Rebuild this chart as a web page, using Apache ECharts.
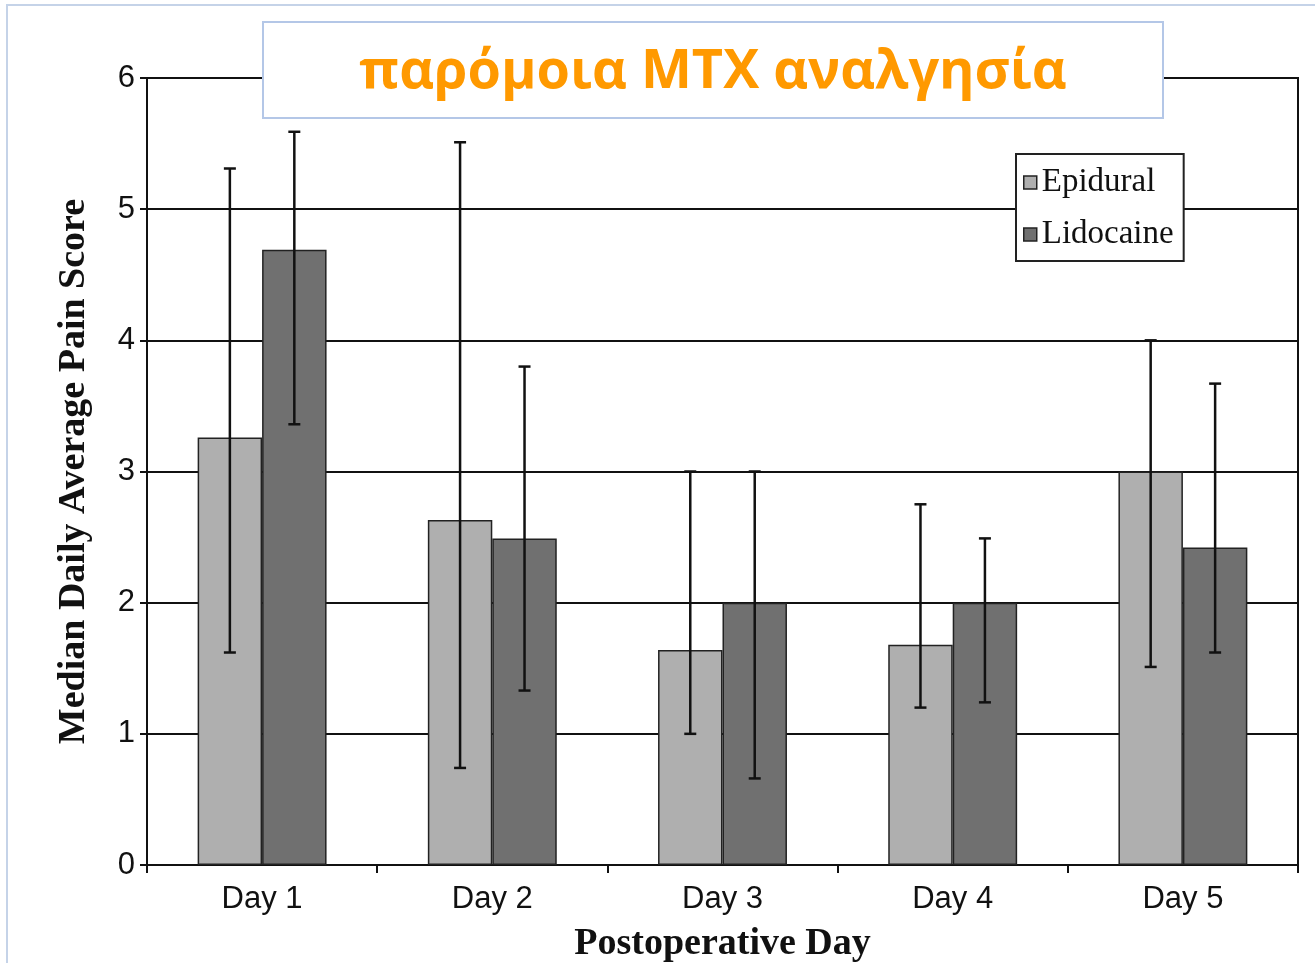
<!DOCTYPE html>
<html>
<head>
<meta charset="utf-8">
<script src="https://cdn.jsdelivr.net/npm/echarts@6/dist/echarts.min.js"></script>
<style>
	html, body { margin: 0; padding: 0; background: #fff; }
	#painChart { width: 1315px; height: 963px; }
</style>
</head>
<body>
<div id="painChart"></div>
<script>
	// data
	var days = ['Day 1', 'Day 2', 'Day 3', 'Day 4', 'Day 5'];
	var epiduralMedian = [3.26, 2.63, 1.64, 1.68, 3.0];
	var lidocaineMedian = [4.69, 2.49, 2.0, 2.0, 2.42];
	var epiduralLow = [1.62, 0.74, 1.0, 1.2, 1.51];
	var epiduralHigh = [5.31, 5.51, 3.0, 2.75, 4.0];
	var lidocaineLow = [3.36, 1.33, 0.66, 1.24, 1.62];
	var lidocaineHigh = [5.59, 3.8, 3.0, 2.49, 3.67];
	var yTicks = [0, 1, 2, 3, 4, 5, 6];

	var barPct = 0.28;

	function errRows(low, high) {
		var rows = [];
		for (var i = 0; i < days.length; i++) {
			rows.push([i, low[i], high[i]]);
		}
		return rows;
	}

	// error bar with caps, shifted to the bar's centre
	function errorBar(side) {
		return function (params, api) {
			var band = api.size([1, 0])[0];
			var shift = side * band * barPct / 2;
			var lo = api.coord([api.value(0), api.value(1)]);
			var hi = api.coord([api.value(0), api.value(2)]);
			var x = lo[0] + shift;
			var cap = 6;
			var st = { stroke: '#111', lineWidth: 2.5 };
			return {
				type: 'group',
				children: [
					{ type: 'line', shape: { x1: x, y1: hi[1], x2: x, y2: lo[1] }, style: st },
					{ type: 'line', shape: { x1: x - cap, y1: hi[1], x2: x + cap, y2: hi[1] }, style: st },
					{ type: 'line', shape: { x1: x - cap, y1: lo[1], x2: x + cap, y2: lo[1] }, style: st }
				]
			};
		};
	}

	var myChart = echarts.init(document.getElementById('painChart'));

	myChart.setOption({
		animation: false,
		backgroundColor: '#fff',
		grid: {
			left: 147,
			right: 17,
			top: 78,
			bottom: 98,
			outerBoundsMode: 'none',
			show: true,
			borderColor: '#111',
			borderWidth: 2
		},
		legend: {
			orient: 'vertical',
			left: 1016,
			top: 154,
			backgroundColor: '#fff',
			borderColor: '#222',
			borderWidth: 2,
			padding: [12, 10, 10, 7],
			itemGap: 19,
			itemWidth: 13,
			itemHeight: 13,
			icon: 'rect',
			itemStyle: { borderColor: '#222', borderWidth: 1.5 },
			textStyle: { fontFamily: 'Liberation Serif', fontSize: 33, color: '#111' },
			data: ['Epidural', 'Lidocaine']
		},
		xAxis: {
			type: 'category',
			data: days,
			name: 'Postoperative Day',
			nameLocation: 'middle',
			nameGap: 60,
			nameTextStyle: { fontFamily: 'Liberation Serif', fontWeight: 'bold', fontSize: 38, color: '#111' },
			axisLine: { lineStyle: { color: '#111', width: 2 } },
			axisTick: { show: true, length: 8, lineStyle: { color: '#111', width: 2 } },
			axisLabel: { margin: 19, fontFamily: 'Liberation Sans', fontSize: 31, color: '#111' }
		},
		yAxis: {
			type: 'value',
			min: 0,
			max: 6,
			interval: 1,
			name: 'Median Daily Average Pain Score',
			nameLocation: 'middle',
			nameGap: 54,
			nameTextStyle: { fontFamily: 'Liberation Serif', fontWeight: 'bold', fontSize: 38, color: '#111' },
			axisLine: { show: true, lineStyle: { color: '#111', width: 2 } },
			axisTick: { show: true, length: 7, lineStyle: { color: '#111', width: 2 } },
			axisLabel: { margin: 12, fontFamily: 'Liberation Sans', fontSize: 31, color: '#111',
				formatter: function (v) { return yTicks.indexOf(v) >= 0 ? String(v) : ''; } },
			splitLine: { lineStyle: { color: '#111', width: 2 } }
		},
		series: [{
			name: 'Epidural',
			type: 'bar',
			data: epiduralMedian,
			barWidth: (barPct * 100) + '%',
			barGap: '0%',
			itemStyle: { color: '#afafaf', borderColor: '#222', borderWidth: 1.5 }
		}, {
			name: 'Lidocaine',
			type: 'bar',
			data: lidocaineMedian,
			barWidth: (barPct * 100) + '%',
			barGap: '0%',
			itemStyle: { color: '#707070', borderColor: '#222', borderWidth: 1.5 }
		}, {
			type: 'custom',
			renderItem: errorBar(-1),
			data: errRows(epiduralLow, epiduralHigh),
			z: 10,
			silent: true
		}, {
			type: 'custom',
			renderItem: errorBar(1),
			data: errRows(lidocaineLow, lidocaineHigh),
			z: 10,
			silent: true
		}],
		graphic: [{
			type: 'rect',
			z: 0,
			shape: { x: 7, y: 5, width: 1400, height: 1000 },
			style: { fill: 'none', stroke: '#c5d3e8', lineWidth: 2 },
			silent: true
		}, {
			type: 'rect',
			z: 100,
			shape: { x: 263, y: 22, width: 900, height: 96 },
			style: { fill: '#fff', stroke: '#b4c7e7', lineWidth: 2 }
		}, {
			type: 'text',
			z: 101,
			x: 713,
			y: 73,
			style: {
				text: 'παρόμοια MTX αναλγησία',
				fill: '#ff9900',
				font: 'bold 54px "Open Sans"',
				textAlign: 'center',
				textVerticalAlign: 'middle'
			}
		}]
	});
</script>
</body>
</html>
